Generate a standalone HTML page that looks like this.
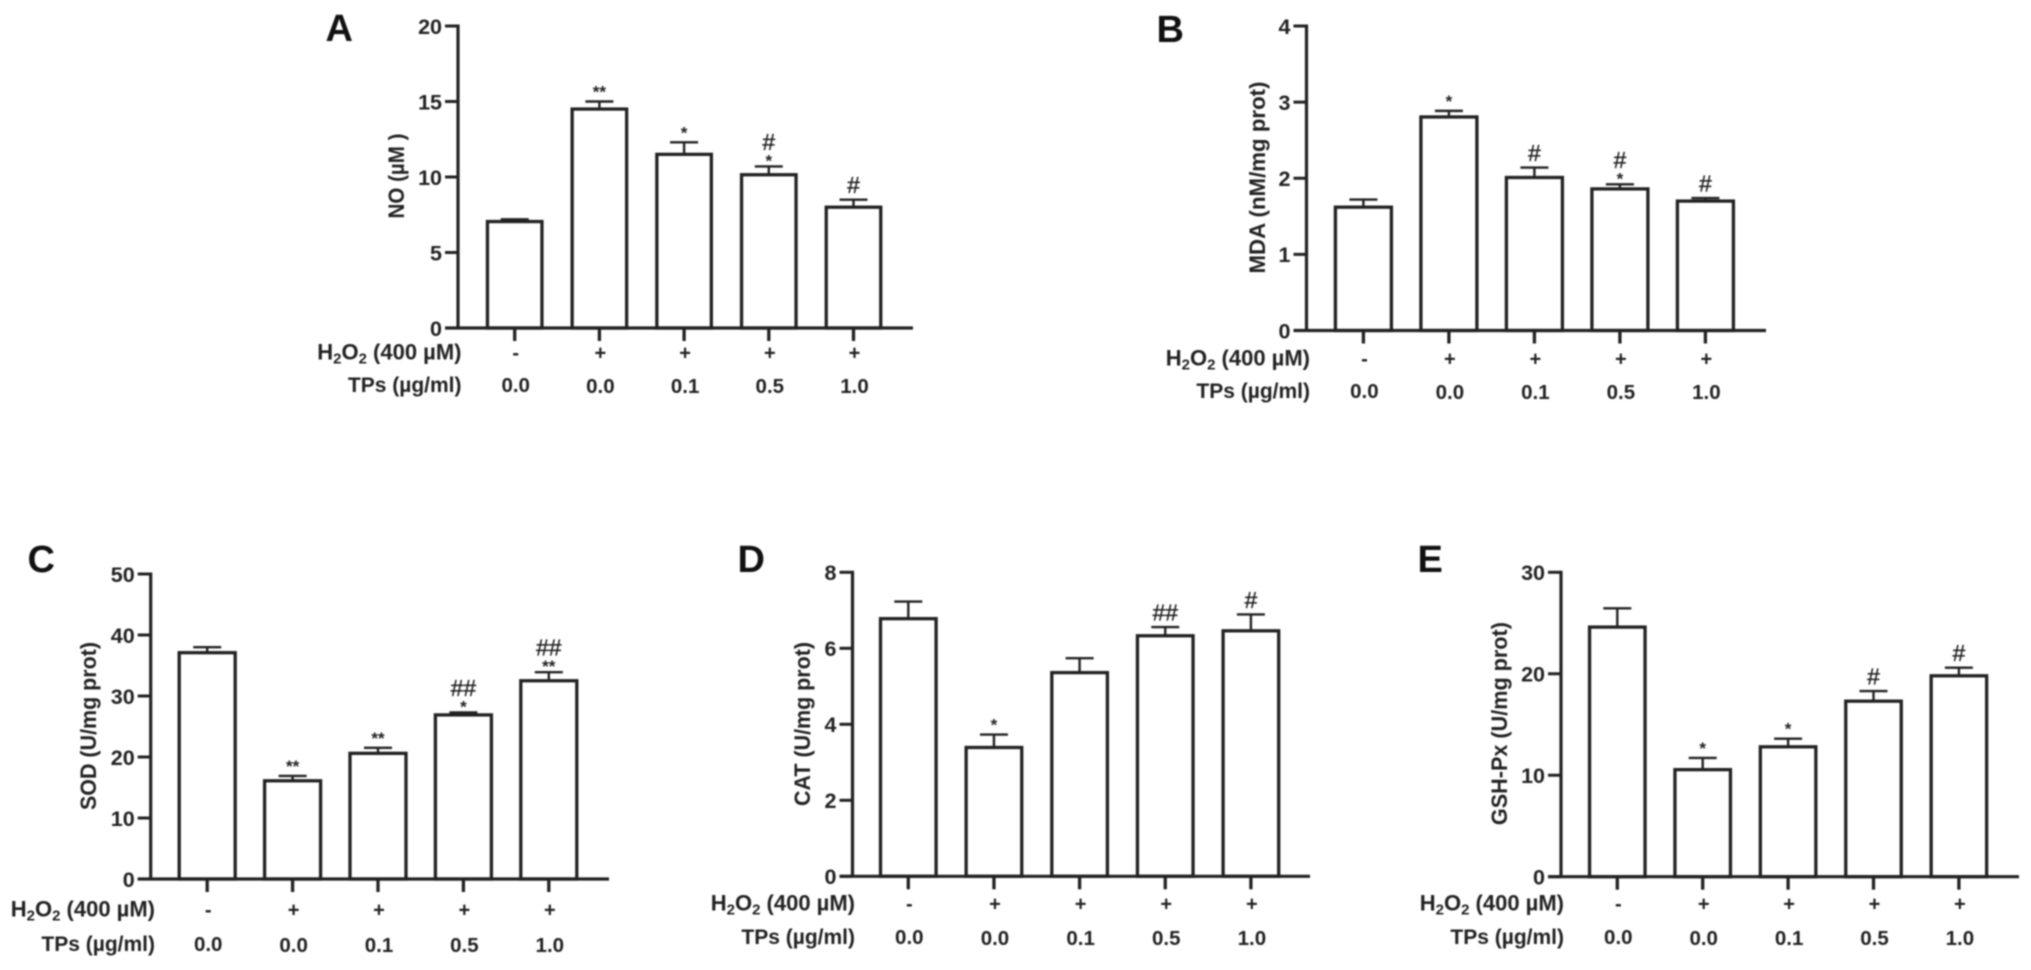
<!DOCTYPE html>
<html lang="en">
<head>
<meta charset="utf-8">
<title>Oxidative stress markers bar charts</title>
<style>
html,body{margin:0;padding:0;background:#fff;width:2031px;height:970px;overflow:hidden}
svg{display:block;filter:blur(0.7px)}
text{font-family:"Liberation Sans",sans-serif;font-weight:700;fill:#222}
</style>
</head>
<body>
<svg id="figure" width="2031" height="970" viewBox="0 0 2031 970" xmlns="http://www.w3.org/2000/svg"></svg>
<script>
// Shared categories
const h2o2Labels = ['-', '+', '+', '+', '+'];
const tpsLabels = ['0.0', '0.0', '0.1', '0.5', '1.0'];

// Panel A: NO
const noTicks = [0, 5, 10, 15, 20];
const noValues = [7.05, 14.5, 11.5, 10.15, 8.0];
const noErrors = [0.15, 0.5, 0.8, 0.55, 0.5];
const noMarks = [[], ['**'], ['*'], ['#', '*'], ['#']];

// Panel B: MDA
const mdaTicks = [0, 1, 2, 3, 4];
const mdaValues = [1.62, 2.805, 2.01, 1.86, 1.70];
const mdaErrors = [0.10, 0.08, 0.13, 0.06, 0.04];
const mdaMarks = [[], ['*'], ['#'], ['#', '*'], ['#']];

// Panel C: SOD
const sodTicks = [0, 10, 20, 30, 40, 50];
const sodValues = [37.1, 16.1, 20.6, 26.9, 32.5];
const sodErrors = [0.9, 0.8, 0.9, 0.4, 1.4];
const sodMarks = [[], ['**'], ['**'], ['##', '*'], ['##', '**']];

// Panel D: CAT
const catTicks = [0, 2, 4, 6, 8];
const catValues = [6.78, 3.39, 5.36, 6.33, 6.46];
const catErrors = [0.45, 0.34, 0.38, 0.23, 0.43];
const catMarks = [[], ['*'], [], ['##'], ['#']];

// Panel E: GSH-Px
const gshTicks = [0, 10, 20, 30];
const gshValues = [24.6, 10.55, 12.8, 17.3, 19.8];
const gshErrors = [1.85, 1.15, 0.8, 1.0, 0.8];
const gshMarks = [[], ['*'], ['*'], ['#'], ['#']];

const SVG_NS = 'http://www.w3.org/2000/svg';
const root = document.getElementById('figure');
const INK = '#222';

function make(tag, attrs, parent) {
  const el = document.createElementNS(SVG_NS, tag);
  for (const k in attrs) el.setAttribute(k, attrs[k]);
  parent.appendChild(el);
  return el;
}

function drawPanel(cfg) {
  const g = make('g', {}, root);
  
  

  const maxTick = cfg.ticks[cfg.ticks.length - 1];
  const yScale = v => cfg.y0 - (v / maxTick) * (cfg.y0 - cfg.yTop);
  const xScale = i => cfg.xFirst + i * cfg.xStep;

  const letter = make('text', { x: cfg.letterX, y: cfg.letterY, 'font-size': 38, style: 'fill:#111' }, g);
  letter.textContent = cfg.id.toUpperCase();
  
  

  const title = make('text', {
    transform: 'translate(' + cfg.titleX + ',' + cfg.titleY + ') rotate(-90)',
    'text-anchor': 'middle', 'font-size': 22,
    textLength: cfg.titleLen, lengthAdjust: 'spacingAndGlyphs'
  }, g);
  title.textContent = cfg.title;
  
  

  cfg.values.forEach((v, i) => {
    const cx = xScale(i);
    const top = yScale(v);
    const errTop = yScale(v + cfg.errors[i]);

    const stem = make('line', { x1: cx, x2: cx, y1: top, y2: errTop, stroke: INK, 'stroke-width': 2.4 }, g);
    
    

    const cap = make('line', { x1: cx - 14, x2: cx + 14, y1: errTop, y2: errTop, stroke: INK, 'stroke-width': 2.4 }, g);
    
    

    const bar = make('rect', {
      x: cx - cfg.barW / 2, y: top, width: cfg.barW, height: cfg.y0 - top,
      fill: '#fff', stroke: INK, 'stroke-width': 3.3
    }, g);
    
    

    const marks = cfg.marks[i];
    const stacked = marks.length > 1;
    marks.forEach((m, j) => {
      const isHash = m.charAt(0) === '#';
      let base;
      if (isHash) base = stacked ? errTop - 16.5 : errTop - 6.5;
      else base = stacked ? errTop : errTop - 4;
      const t = make('text', {
        x: cx, y: base, 'text-anchor': 'middle',
        'font-size': isHash ? 23 : 17,
        style: isHash ? 'font-weight:400;stroke:#222;stroke-width:0.35' : ''
      }, g);
      t.textContent = m;
      
      
    });

    const xTick = make('line', { x1: cx, x2: cx, y1: cfg.y0, y2: cfg.y0 + 13, stroke: INK, 'stroke-width': 3.3 }, g);
    
    

    const sym = make('text', { x: cx + 1, y: cfg.rowH, 'text-anchor': 'middle', 'font-size': 20 }, g);
    sym.textContent = h2o2Labels[i];
    
    

    const val = make('text', { x: cx + 1, y: cfg.rowT - (i === 0 ? 1 : 0), 'text-anchor': 'middle', 'font-size': 20.5 }, g);
    val.textContent = tpsLabels[i];
    
    
  });

  const yAxis = make('line', { x1: cfg.axisX, x2: cfg.axisX, y1: cfg.yTop - 1.5, y2: cfg.y0, stroke: INK, 'stroke-width': 3.2 }, g);
  
  

  const xAxis = make('line', { x1: cfg.axisX - 13, x2: cfg.xEnd, y1: cfg.y0, y2: cfg.y0, stroke: INK, 'stroke-width': 3.2 }, g);
  
  

  cfg.ticks.forEach(t => {
    const y = yScale(t);
    const tick = make('line', { x1: cfg.axisX - 13, x2: cfg.axisX, y1: y, y2: y, stroke: INK, 'stroke-width': 3 }, g);
    
    

    const lab = make('text', { x: cfg.axisX - 16, y: y + 7.8, 'text-anchor': 'end', 'font-size': 21.5 }, g);
    lab.textContent = String(t);
    
    
  });

  const rowLabel = make('text', { x: cfg.rowX, y: cfg.rowH, 'text-anchor': 'end', 'font-size': 22 }, g);
  
  
  const parts = [['H', 0, 22], ['2', 4, 15], ['O', -4, 22], ['2', 4, 15], [' (400 \u00b5M)', -4, 22]];
  parts.forEach(p => {
    const s = make('tspan', { dy: p[1], 'font-size': p[2] }, rowLabel);
    s.textContent = p[0];
  });

  const tpsLabel = make('text', { x: cfg.rowX, y: cfg.rowT - 0.8, 'text-anchor': 'end', 'font-size': 21 }, g);
  tpsLabel.textContent = 'TPs (\u00b5g/ml)';
  
  
}

drawPanel({ id: 'a', title: 'NO (\u00b5M )', ticks: noTicks, values: noValues, errors: noErrors, marks: noMarks,
  axisX: 458, yTop: 26, y0: 328, xFirst: 514.7, xStep: 84.7, barW: 54.5, xEnd: 913,
  letterX: 325.5, letterY: 41, titleX: 404, titleY: 176, titleLen: 85, rowH: 359.5, rowT: 393, rowX: 461.5 });

drawPanel({ id: 'b', title: 'MDA (nM/mg prot)', ticks: mdaTicks, values: mdaValues, errors: mdaErrors, marks: mdaMarks,
  axisX: 1306.5, yTop: 26, y0: 330.5, xFirst: 1363.4, xStep: 85.5, barW: 56, xEnd: 1766,
  letterX: 1156.5, letterY: 42, titleX: 1265, titleY: 177.5, titleLen: 192, rowH: 365.5, rowT: 399, rowX: 1310 });

drawPanel({ id: 'c', title: 'SOD (U/mg prot)', ticks: sodTicks, values: sodValues, errors: sodErrors, marks: sodMarks,
  axisX: 150.7, yTop: 574, y0: 879, xFirst: 207.2, xStep: 85.4, barW: 56, xEnd: 609,
  letterX: 27.5, letterY: 572, titleX: 96, titleY: 726, titleLen: 168, rowH: 916.5, rowT: 952, rowX: 155 });

drawPanel({ id: 'd', title: 'CAT (U/mg prot)', ticks: catTicks, values: catValues, errors: catErrors, marks: catMarks,
  axisX: 852.5, yTop: 572.3, y0: 876.3, xFirst: 908.3, xStep: 85.65, barW: 55.6, xEnd: 1310,
  letterX: 737.5, letterY: 572, titleX: 810, titleY: 724, titleLen: 164, rowH: 910.5, rowT: 945, rowX: 855 });

drawPanel({ id: 'e', title: 'GSH-Px (U/mg prot)', ticks: gshTicks, values: gshValues, errors: gshErrors, marks: gshMarks,
  axisX: 1561, yTop: 572.3, y0: 876.7, xFirst: 1617.3, xStep: 85.4, barW: 55.5, xEnd: 2019,
  letterX: 1417.5, letterY: 572, titleX: 1507, titleY: 723.6, titleLen: 203, rowH: 910.5, rowT: 945, rowX: 1564 });
</script>
</body>
</html>
